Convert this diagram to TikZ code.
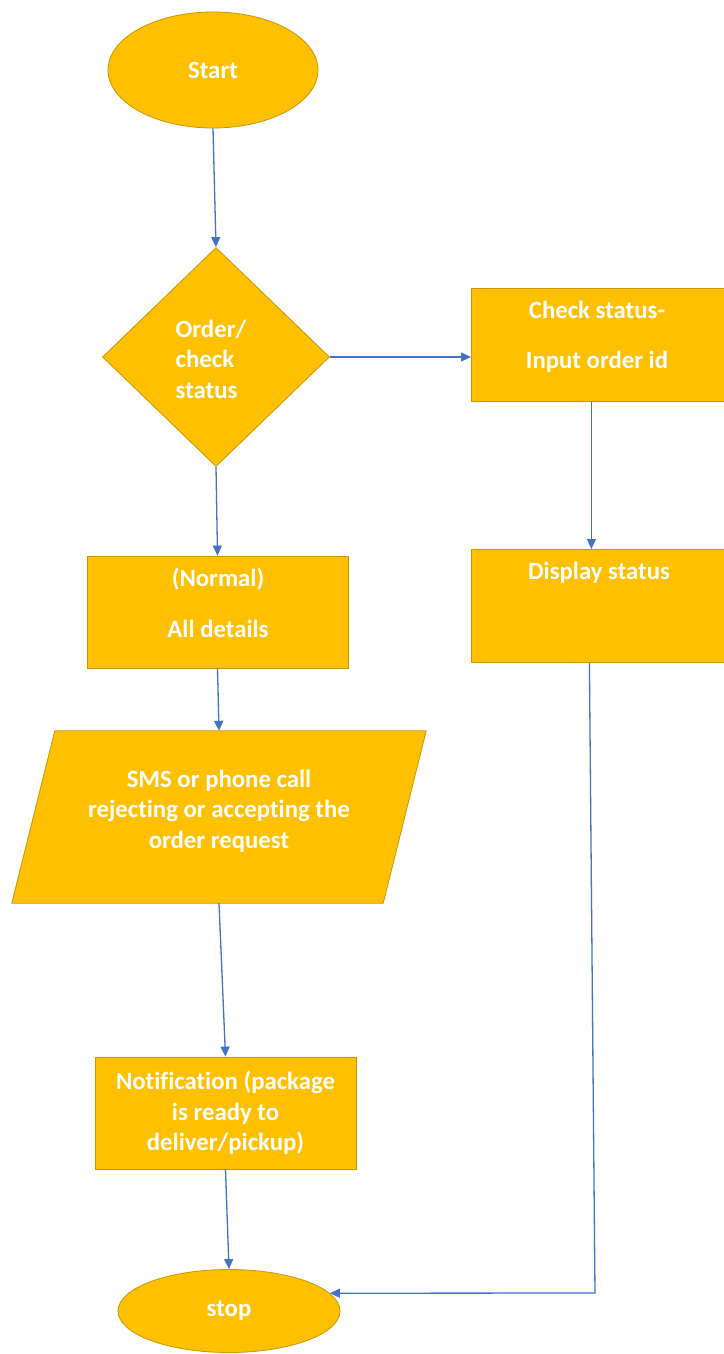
\documentclass[tikz,border=0pt]{standalone}
\usepackage{fontspec}
\setmainfont{Carlito}[Ligatures={NoCommon}]
\usetikzlibrary{shapes.geometric,arrows.meta}
\definecolor{gold}{HTML}{FFC000}
\definecolor{goldedge}{HTML}{C89600}
\definecolor{arrowblue}{HTML}{4472C4}
\tikzset{
  shp/.style={fill=gold, draw=goldedge, line width=0.8pt, text=white,
    font=\bfseries\fontsize{24.8}{30.5}\selectfont, inner sep=0pt, align=center},
  txt/.style={text=white, font=\bfseries\fontsize{24.8}{30.5}\selectfont,
    inner sep=0pt, align=center},
  flow/.style={draw=arrowblue, line width=1.3pt, -{Triangle[length=10pt,width=9pt]}}
}
\begin{document}
\begin{tikzpicture}[x=1pt,y=-1pt]
\useasboundingbox[fill=white] (0,0) rectangle (723,1354);
% shapes
\node[shp, ellipse, minimum width=210pt, minimum height=116pt] (start) at (213,70) {Start};
\node[shp, diamond, minimum width=227pt, minimum height=219pt] (dec) at (216,357) {};
\node[txt, align=left] (decT) at (211,359) {Order/\\check\\status};
\node[shp, rectangle, minimum width=258pt, minimum height=113pt, anchor=north west] (chk) at (471,288) {};
\node[txt] (chkT) at (597,337) {Check status-\\[19.5pt]Input order id};
\node[shp, rectangle, minimum width=258pt, minimum height=113pt, anchor=north west] (disp) at (471,549) {};
\node[txt] (dispT) at (599,573) {Display status};
\node[shp, rectangle, minimum width=261pt, minimum height=112pt] (norm) at (217.5,612) {};
\node[txt] (normT) at (218,602.5) {(Normal)\\[20.5pt]All details};
\node[minimum width=371pt, minimum height=172pt, inner sep=0pt] (sms) at (219,817) {};
\draw[fill=gold, draw=goldedge, line width=0.8pt]
  ([xshift=21.5pt]sms.north west) -- ([xshift=21.5pt]sms.north east) --
  ([xshift=-21.5pt]sms.south east) -- ([xshift=-21.5pt]sms.south west) -- cycle;
\node[txt] (smsT) at (219,811) {SMS or phone call\\rejecting or accepting the\\order request};
\node[shp, rectangle, minimum width=261pt, minimum height=112pt] (notif) at (225.5,1113) {Notification (package\\is ready to\\deliver/pickup)};
\node[shp, ellipse, minimum width=222pt, minimum height=83pt] (stop) at (229,1311) {stop};
% connectors
\coordinate (corner) at (595,1293);
\draw[flow] (start.south) -- (dec.north);
\draw[flow] (dec.east) -- (dec.east -| chk.west);
\draw[flow] (dec.south) -- (norm.north);
\draw[flow] ([xshift=-9pt]chk.south) -- ([xshift=-9pt]disp.north);
\draw[flow] (norm.south) -- (sms.north);
\draw[flow] (sms.south) -- (notif.north);
\draw[flow] (notif.south) -- (stop.north);
\draw[flow] ([xshift=-11pt]disp.south) -- (corner) -- (stop.10);
\end{tikzpicture}
\end{document}
